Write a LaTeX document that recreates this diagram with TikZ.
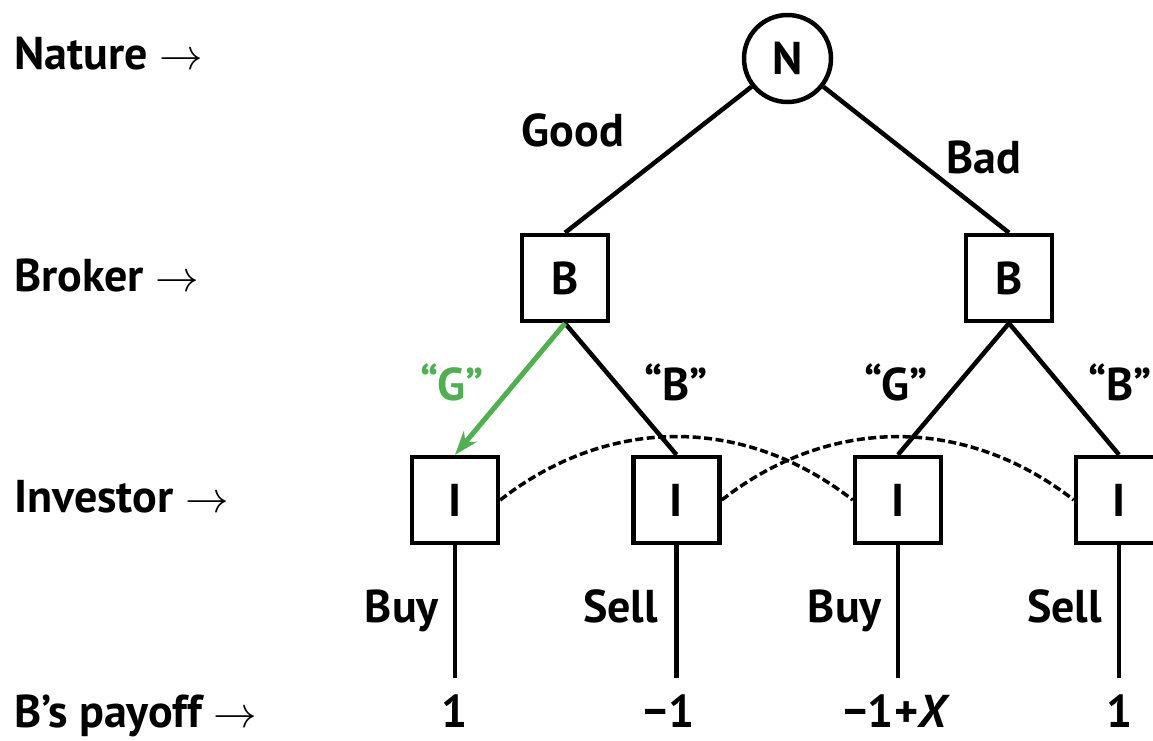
\documentclass[tikz,border=0pt]{standalone}
\usepackage{graphicx}
\usepackage{fontspec}
\setmainfont{PT Sans}
\usetikzlibrary{arrows.meta}
\definecolor{choicegreen}{RGB}{80,176,80}
\newcommand{\rowarrow}{\scalebox{2.1}{\fontsize{20.74}{25}\selectfont$\rightarrow$}}
\begin{document}
\begin{tikzpicture}[x=1pt,y=-1pt,
  every node/.style={font=\fontsize{46}{52}\selectfont\bfseries, inner sep=0pt},
  player/.style={draw, line width=4.5pt, minimum size=86pt, inner sep=0pt},
  naturenode/.style={draw, circle, line width=4.5pt, minimum size=87pt, inner sep=0pt},
  edge/.style={line width=4.5pt},
  info/.style={line width=3.5pt, dash pattern=on 8pt off 3.5pt},
  rowlabel/.style={anchor=base west},
  lab/.style={anchor=base},
  actlab/.style={anchor=base east}]
\useasboundingbox (0,0) rectangle (1153,740);
% row labels
\node[rowlabel] (lnature) at (14,69) {Nature \rowarrow};
\node[rowlabel] (lbroker) at (14,291) {Broker \rowarrow};
\node[rowlabel] (linvestor) at (14,512) {Investor \rowarrow};
\node[rowlabel] (lpayoff) at (14,727) {B’s payoff \rowarrow};
% nodes
\node[naturenode] (N) at (787.5,58.5) {N};
\node[player] (B1) at (565,278) {B};
\node[player] (B2) at (1009,278) {B};
\node[player] (I1) at (455,500) {I};
\node[player] (I2) at (676.5,500) {I};
\node[player] (I3) at (898,500) {I};
\node[player] (I4) at (1119,500) {I};
% terminal coordinates
\coordinate (T1) at (455,678);
\coordinate (T2) at (676.5,678);
\coordinate (T3) at (898,678);
\coordinate (T4) at (1119,678);
% edges
\draw[edge] (N) -- (B1.north);
\draw[edge] (N) -- (B2.north);
\draw[edge] (B1.south) -- (I2.north);
\draw[edge, line width=5pt, choicegreen, -{Stealth[length=24pt,width=17pt,inset=8pt]}] (B1.south) -- (I1.north);
\draw[edge] (B2.south) -- (I3.north);
\draw[edge] (B2.south) -- (I4.north);
\draw[edge] (I1.south) -- (T1);
\draw[edge] (I2.south) -- (T2);
\draw[edge] (I3.south) -- (T3);
\draw[edge] (I4.south) -- (T4);
% information sets
\draw[info] (I1.east) to[out=38,in=142] (I3.west);
\draw[info] (I2.east) to[out=38,in=142] (I4.west);
% edge labels
\node[lab] (good) at (573,146) {Good};
\node[lab] (bad) at (984,173) {Bad};
\node[lab, text=choicegreen] (sg1) at (452,400) {“G”};
\node[lab] (sb1) at (676,400) {“B”};
\node[lab] (sg2) at (896,400) {“G”};
\node[lab] (sb2) at (1120,400) {“B”};
\node[actlab] (buy1) at (439,622) {Buy};
\node[actlab] (sell1) at (658,622) {Sell};
\node[actlab] (buy2) at (882,622) {Buy};
\node[actlab] (sell2) at (1102,622) {Sell};
% payoffs
\node[lab] (p1) at (455,727) {1};
\node[lab] (p2) at (669,727) {−1};
\node[lab] (p3) at (897,727) {−1+\textit{X}};
\node[lab] (p4) at (1120,727) {1};
\end{tikzpicture}
\end{document}
